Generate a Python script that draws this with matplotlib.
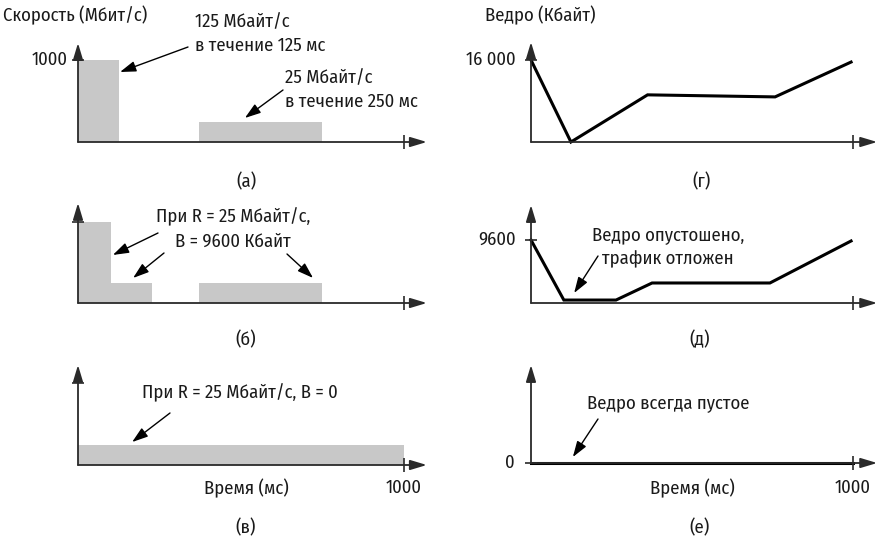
import numpy as np
import matplotlib
matplotlib.use("Agg")
import matplotlib.pyplot as plt

plt.rcParams["font.family"] = ["Fira Sans Condensed", "Roboto", "DejaVu Sans"]
plt.rcParams["font.size"] = 13.4

# (а) входной трафик: начало, конец (мс), скорость (Мбит/с)
rate_a_start = [0, 370]
rate_a_end = [125, 750]
rate_a = [1000, 250]

# (б) выход ведра с R = 25 Мбайт/с, B = 9600 Кбайт
rate_b_start = [0, 100, 370]
rate_b_end = [100, 228, 750]
rate_b = [1000, 250, 250]

# (в) выход ведра с R = 25 Мбайт/с, B = 0
rate_c_start = [0]
rate_c_end = [1000]
rate_c = [250]

# (г)-(е) уровень ведра (Кбайт)
bucket_g_t = [0, 124, 362, 758, 994]
bucket_g = [16000, 0, 9200, 8800, 15600]
bucket_d_t = [0, 102, 264, 376, 742, 994]
bucket_d = [9600, 450, 450, 3050, 3050, 9450]
bucket_e_t = [0, 1000]
bucket_e = [0, 0]

W, H = 878, 541
fig = plt.figure(figsize=(W / 100, H / 100), dpi=100)

AX_COL = "#2a2a2a"
BAR_COL = "#c8c8c8"


def fx(x):
    return x / W


def fy(y):
    return 1 - y / H


def make_panel(x0, x1, base, ref, yref, ytip, xtip=1070):
    ax = fig.add_axes([fx(x0), fy(base), (x1 - x0) / W, (base - ref) / H])
    ax.set_xlim(0, 1000)
    ax.set_ylim(0, yref)
    ax.axis("off")
    arrow = dict(arrowstyle="-|>,head_length=0.5,head_width=0.15", lw=1.3,
                 color=AX_COL, shrinkA=0, shrinkB=0, mutation_scale=20)
    ax.annotate("", xy=(xtip, 0), xytext=(0, 0), arrowprops=arrow,
                annotation_clip=False, zorder=5)
    ax.annotate("", xy=(0, ytip), xytext=(0, 0), arrowprops=arrow,
                annotation_clip=False, zorder=5)
    ax.plot(1000, 0, marker="|", ms=10, mew=1.2, color=AX_COL, clip_on=False, zorder=5)
    return ax


def ytick(ax, y):
    ax.plot(0, y, marker="_", ms=9, mew=1.2, color=AX_COL, clip_on=False, zorder=5)


def bars(ax, start, end, h):
    ax.bar(start, h, width=np.subtract(end, start), align="edge",
           color=BAR_COL, lw=0, zorder=1)


def note(ax, head, tail):
    ax.annotate("", xy=head, xycoords="data", xytext=(fx(tail[0]), fy(tail[1])),
                textcoords="figure fraction", annotation_clip=False,
                arrowprops=dict(arrowstyle="-|>,head_length=0.6,head_width=0.2",
                                lw=1.0, color="k", shrinkA=0, shrinkB=0,
                                mutation_scale=16))


def label(x, y, s, ha="center", **kw):
    fig.text(fx(x), fy(y), s, ha=ha, va="center", color="#1a1a1a", **kw)


# --- левый столбец: скорость ---
ax_a = make_panel(78, 404, 142, 60, 1000, 1207)
bars(ax_a, rate_a_start, rate_a_end, rate_a)
ytick(ax_a, 1000)
note(ax_a, (129, 854), (188, 47))
note(ax_a, (512, 293), (283, 90))
label(3, 15, "Скорость (Мбит/с)", ha="left")
label(68, 60, "1000", ha="right")
label(195, 34, "125 Мбайт/с\nв течение 125 мс", ha="left", linespacing=1.45)
label(285, 90, "25 Мбайт/с\nв течение 250 мс", ha="left", linespacing=1.45)
label(246, 182, "(а)")

ax_b = make_panel(78, 404, 303, 222, 1000, 1235)
bars(ax_b, rate_b_start, rate_b_end, rate_b)
ytick(ax_b, 1000)
note(ax_b, (107, 593), (158, 233))
note(ax_b, (169, 309), (164, 253))
note(ax_b, (721, 309), (287, 254))
label(233, 229, "При R = 25 Мбайт/с,\nB = 9600 Кбайт", linespacing=1.45)
label(246, 340, "(б)")

ax_c = make_panel(78, 404, 465, 383, 1000, 1220)
bars(ax_c, rate_c_start, rate_c_end, rate_c)
ytick(ax_c, 1000)
note(ax_c, (166, 280), (170, 413))
label(240, 393, "При R = 25 Мбайт/с, B = 0")
label(246, 488, "Время (мс)")
label(404, 488, "1000")
label(246, 528, "(в)")

# --- правый столбец: ведро ---
ax_g = make_panel(531, 853, 142, 60, 16000, 19500, xtip=1075)
ax_g.plot(bucket_g_t, bucket_g, color="k", lw=2.2, solid_joinstyle="miter",
          clip_on=False, zorder=4)
ytick(ax_g, 16000)
label(485, 15, "Ведро (Кбайт)", ha="left")
label(516, 60, "16 000", ha="right")
label(702, 182, "(г)")

ax_d = make_panel(531, 853, 303, 240, 9600, 14930, xtip=1075)
ax_d.plot(bucket_d_t, bucket_d, color="k", lw=2.2, solid_joinstyle="miter",
          clip_on=False, zorder=4)
ytick(ax_d, 9600)
note(ax_d, (134, 1524), (598, 256))
label(516, 240, "9600", ha="right")
label(668, 247, "Ведро опустошено,\nтрафик отложен", linespacing=1.45)
label(700, 340, "(д)")

ax_e = make_panel(531, 853, 463, 381, 1, 1.195, xtip=1075)
ax_e.plot(bucket_e_t, bucket_e, color="k", lw=2.2, clip_on=False, zorder=4)
ytick(ax_e, 0)
note(ax_e, (130, 0.073), (598, 419))
label(515, 463, "0", ha="right")
label(668, 403, "Ведро всегда пустое")
label(692, 488, "Время (мс)")
label(853, 488, "1000")
label(700, 528, "(е)")

fig.savefig("out.png", dpi=100)
